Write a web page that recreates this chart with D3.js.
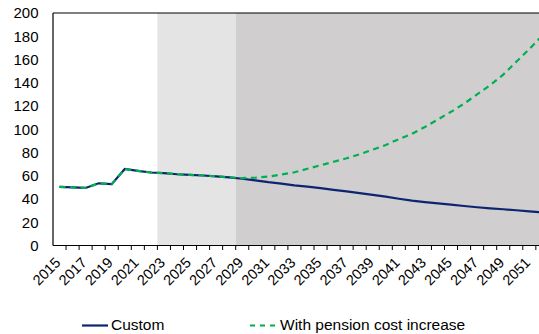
<!DOCTYPE html>
<html>
<head>
<meta charset="utf-8">
<script src="https://cdn.jsdelivr.net/npm/d3@7"></script>
<style>
  body { margin: 0; background: #fff; }
  svg { display: block; font-family: "Liberation Sans", Arial, sans-serif; }
</style>
</head>
<body>
<div id="chart"></div>
<script>
const years = d3.range(2015, 2053);
const custom = [50.5, 50, 49.5, 53.5, 52.8, 65.8, 64.2, 62.8, 62.2, 61.3,
  60.8, 60.2, 59.5, 58.6, 57.4, 56, 54.5, 53.3, 51.8, 50.6,
  49.4, 47.9, 46.5, 45, 43.5, 42, 40.2, 38.6, 37.3, 36.2,
  35.2, 34, 32.9, 32, 31.2, 30.3, 29.4, 28.4];
const pension = [50.5, 50, 49.5, 53.5, 52.8, 65.8, 64.2, 62.8, 62.2, 61.3,
  60.8, 60.2, 59.5, 58.6, 58, 58.3, 59.3, 61, 63, 66,
  69, 72, 75, 78.5, 82.5, 86.5, 91.5, 96, 102, 108.5,
  115, 122, 130, 138, 147, 158, 169, 180.5];
const yTicks = [0, 20, 40, 60, 80, 100, 120, 140, 160, 180, 200];
const shadeFrom = [2023, 2029];
const shadeTo = [2029, 2053];
const seriesNames = ["Custom", "With pension cost increase"];

const W = 539, H = 334;
const plotLeft = 53, plotTop = 13, plotBottom = 245.5, step = 13.05;

const svg = d3.select("#chart").append("svg")
    .attr("width", W).attr("height", H);

const x = d3.scaleBand().domain(years.concat([2053]))
    .range([plotLeft, plotLeft + 39 * step]).padding(0);
const cx = d => x(d) + x.bandwidth() / 2;
const y = d3.scaleLinear().domain([0, 200]).range([plotBottom, plotTop]);

// shaded forecast periods
const shadeColors = ["#e4e4e4", "#d0cece"];
svg.selectAll("rect.shade").data(shadeFrom).enter().append("rect")
    .attr("class", "shade")
    .attr("x", d => x(d))
    .attr("y", plotTop)
    .attr("width", (d, i) => x(shadeTo[i]) - x(d))
    .attr("height", plotBottom - plotTop)
    .attr("fill", (d, i) => shadeColors[i]);

// lines
const line = d3.line().x((d, i) => cx(years[i])).y(d => y(d));

svg.append("path").datum(custom)
    .attr("d", line)
    .attr("fill", "none")
    .attr("stroke", "#0d2470")
    .attr("stroke-width", 2.2);

svg.append("path").datum(pension)
    .attr("d", line)
    .attr("fill", "none")
    .attr("stroke", "#00b050")
    .attr("stroke-width", 2.2)
    .attr("stroke-dasharray", "6,4.5");

// frame: top border, left axis, bottom axis
svg.append("line").attr("x1", plotLeft).attr("x2", W).attr("y1", plotTop).attr("y2", plotTop)
    .attr("stroke", "#000").attr("stroke-width", 1.2);
svg.append("line").attr("x1", plotLeft).attr("x2", plotLeft).attr("y1", plotTop).attr("y2", plotBottom)
    .attr("stroke", "#000").attr("stroke-width", 1.2);
svg.append("line").attr("x1", plotLeft).attr("x2", W).attr("y1", plotBottom).attr("y2", plotBottom)
    .attr("stroke", "#000").attr("stroke-width", 1.2);

// x ticks at category boundaries
svg.selectAll("line.xtick").data(years.slice(1).concat([2053])).enter().append("line")
    .attr("class", "xtick")
    .attr("x1", d => x(d)).attr("x2", d => x(d))
    .attr("y1", plotBottom).attr("y2", plotBottom + 4.5)
    .attr("stroke", "#000").attr("stroke-width", 1);

// y labels
svg.selectAll("text.ylab").data(yTicks).enter().append("text")
    .attr("class", "ylab")
    .attr("x", 38.5)
    .attr("y", d => y(d))
    .attr("dy", "0.35em")
    .attr("text-anchor", "end")
    .style("font-size", "15px")
    .text(d => d);

// x labels every second year
svg.selectAll("text.xlab").data(years.filter(d => (d - 2015) % 2 === 0)).enter().append("text")
    .attr("class", "xlab")
    .attr("text-anchor", "end")
    .attr("transform", d => `translate(${cx(d) + 2},${plotBottom + 18}) rotate(-45)`)
    .style("font-size", "14.5px")
    .text(d => d);

// legend
const legend = svg.append("g");
legend.append("line").attr("x1", 82).attr("x2", 108).attr("y1", 325.5).attr("y2", 325.5)
    .attr("stroke", "#0d2470").attr("stroke-width", 2.2);
legend.append("text").attr("x", 111).attr("y", 330).style("font-size", "15.5px")
    .text(seriesNames[0]);
legend.append("line").attr("x1", 250).attr("x2", 277).attr("y1", 325.5).attr("y2", 325.5)
    .attr("stroke", "#00b050").attr("stroke-width", 2.2).attr("stroke-dasharray", "5,5");
legend.append("text").attr("x", 280).attr("y", 330).style("font-size", "15.5px")
    .text(seriesNames[1]);
</script>
</body>
</html>
